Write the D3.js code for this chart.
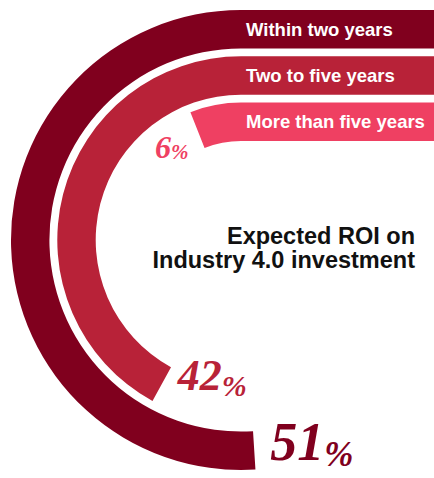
<!DOCTYPE html>
<html>
<head>
<meta charset="utf-8">
<script src="https://cdn.jsdelivr.net/npm/d3@7"></script>
<style>
  html, body { margin: 0; padding: 0; background: #ffffff; }
  svg { display: block; }
</style>
</head>
<body>
<svg id="chart" width="434" height="478"></svg>
<script>
// Share of respondents by expected payback period
const categories = ["Within two years", "Two to five years", "More than five years"];
const values = [51, 42, 6];
const titleLines = ["Expected ROI on", "Industry 4.0 investment"];

// Presentation
const W = 434, H = 478;
const cx = 241, cy = 240;                       // centre of the rings
const colors = ["#80001e", "#b82238", "#ef4062"];
const pctSize = [54, 44, 32];                    // font size of the number
const pctSignSize = [35, 30, 21];                // font size of the % sign
const pctSignShift = [6, 6, 1];                  // % sign dropped below the baseline
const pctDx = [16, 16, -9];
const pctDy = [10, 6, 28];
const pctAnchor = ["start", "start", "end"];

const svg = d3.select("#chart");

// value -> sweep angle (full turn = 100%)
const angle = d3.scaleLinear().domain([0, 100]).range([0, 2 * Math.PI]);
// category -> ring (inner radius + bandwidth)
const ring = d3.scaleBand().domain(categories).range([230, 99]).paddingInner(0.17);
const bw = ring.bandwidth();

const TOP = -Math.PI / 2;

// Straight run from the right edge into a ring that sweeps counter-clockwise
function barPath(ri, ro, a) {
  const p = d3.path();
  p.moveTo(W + 2, cy - ro);
  p.lineTo(cx, cy - ro);
  p.arc(cx, cy, ro, TOP, TOP - a, true);
  p.lineTo(cx + ri * Math.cos(TOP - a), cy + ri * Math.sin(TOP - a));
  p.arc(cx, cy, ri, TOP - a, TOP, false);
  p.lineTo(W + 2, cy - ri);
  p.closePath();
  return p.toString();
}

const rows = categories.map((c, i) => ({
  cat: c, value: values[i], i,
  ri: ring(c), ro: ring(c) + bw, a: angle(values[i])
}));

const g = svg.append("g");

g.selectAll("path.bar")
  .data(rows)
  .join("path")
  .attr("class", "bar")
  .attr("d", d => barPath(d.ri, d.ro, d.a))
  .attr("fill", d => colors[d.i]);

// Category names inside the straight runs
g.selectAll("text.cat")
  .data(rows)
  .join("text")
  .attr("class", "cat")
  .attr("x", 246)
  .attr("y", d => cy - (d.ri + d.ro) / 2 + 6.5)
  .attr("fill", "#ffffff")
  .attr("font-family", "'Liberation Sans', Arial, Helvetica, sans-serif")
  .attr("font-weight", "bold")
  .attr("font-size", 18.5)
  .text(d => d.cat);

// Percentages at the end of each ring
const pct = g.selectAll("text.pct")
  .data(rows)
  .join("text")
  .attr("class", "pct")
  .attr("x", d => cx + (d.ri + d.ro) / 2 * Math.cos(TOP - d.a) + pctDx[d.i])
  .attr("y", d => cy + (d.ri + d.ro) / 2 * Math.sin(TOP - d.a) + pctDy[d.i])
  .attr("text-anchor", d => pctAnchor[d.i])
  .attr("fill", d => colors[d.i])
  .attr("font-family", "'Liberation Serif', 'Times New Roman', serif")
  .attr("font-weight", "bold")
  .attr("font-style", "italic");

pct.append("tspan")
  .attr("font-size", d => pctSize[d.i])
  .text(d => d.value);

pct.append("tspan")
  .attr("font-size", d => pctSignSize[d.i])
  .attr("dy", d => pctSignShift[d.i])
  .text("%");

// Title in the middle of the rings
svg.append("text")
  .attr("text-anchor", "end")
  .attr("fill", "#111111")
  .attr("font-family", "'Liberation Sans', Arial, Helvetica, sans-serif")
  .attr("font-weight", "bold")
  .attr("font-size", 23.5)
  .selectAll("tspan")
  .data(titleLines)
  .join("tspan")
  .attr("x", 415)
  .attr("y", (d, i) => 244 + i * 24)
  .text(d => d);
</script>
</body>
</html>
